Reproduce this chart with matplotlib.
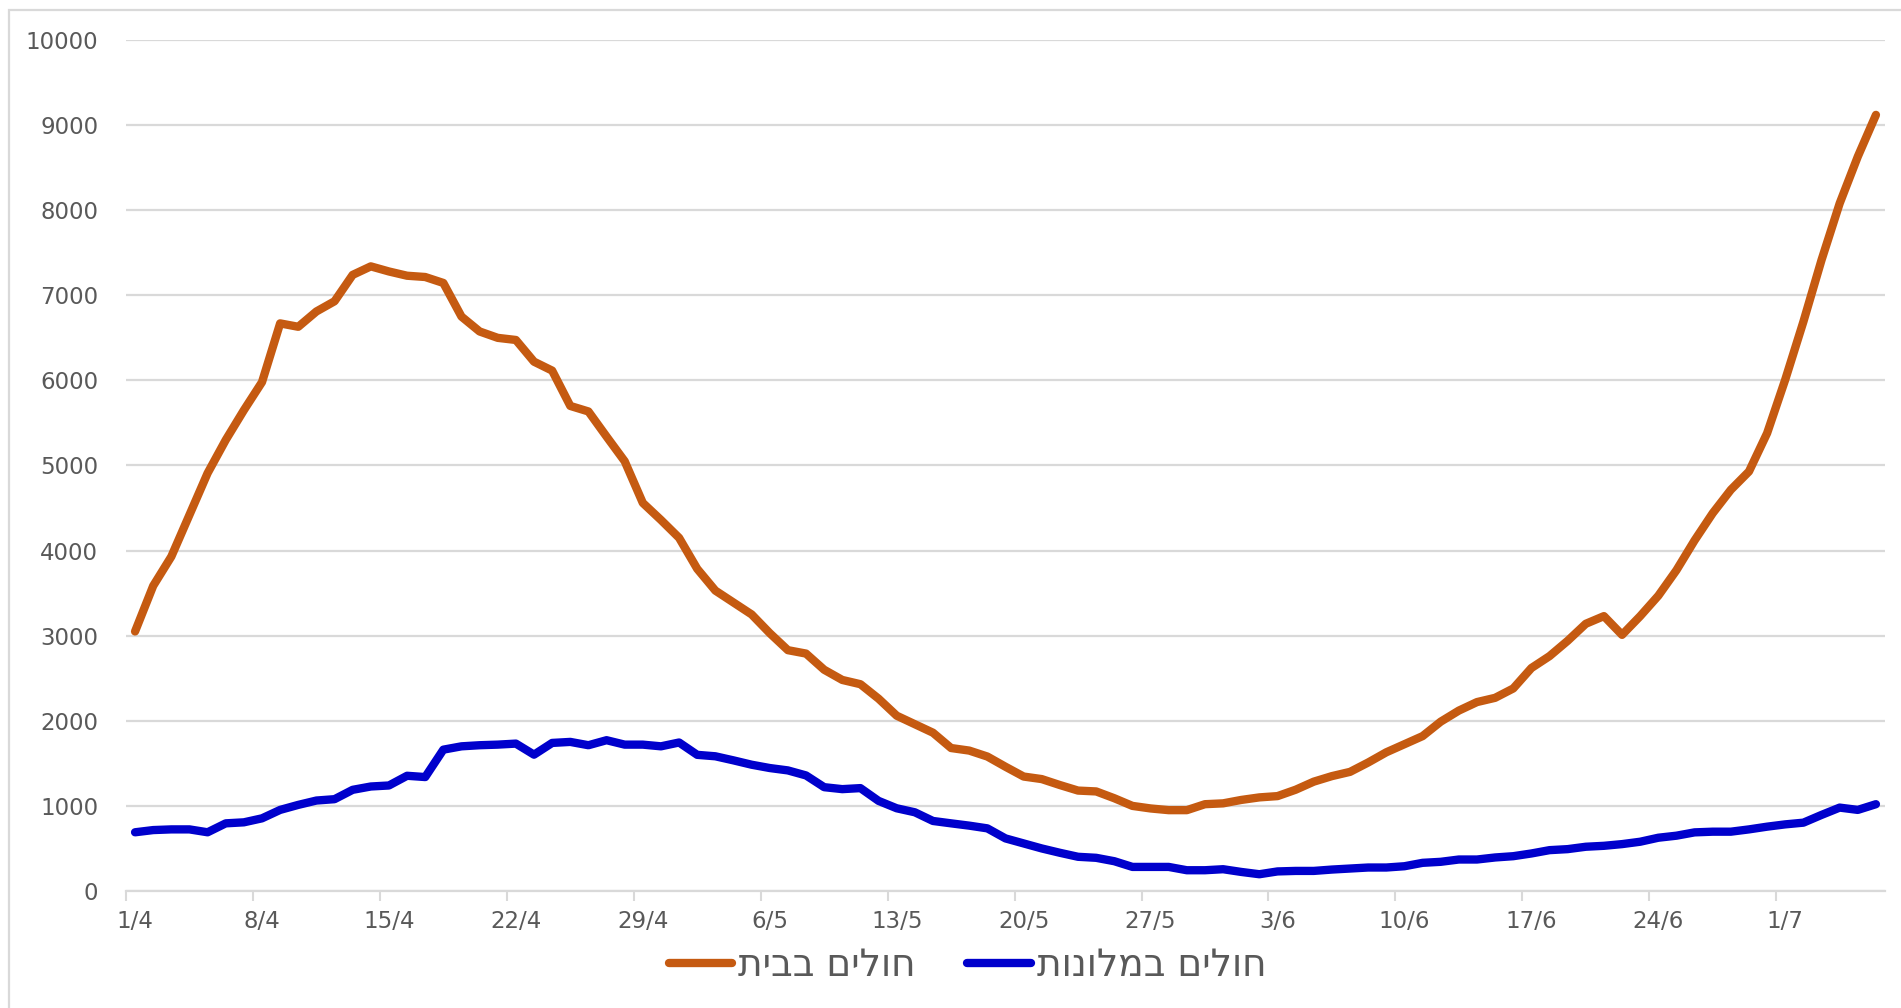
import matplotlib
matplotlib.use('Agg')
import matplotlib.pyplot as plt
from matplotlib.patches import Rectangle
import numpy as np
import pandas as pd

# ימים: 1/4 עד 6/7
dates = pd.date_range('2020-04-01', '2020-07-06', freq='D')
day_labels = [f"{d.day}/{d.month}" for d in dates]

home = [3050, 3586, 3930, 4420, 4910, 5300, 5650, 5980, 6670, 6630,
        6810, 6930, 7240, 7340, 7280, 7230, 7215, 7145, 6750, 6575,
        6500, 6475, 6220, 6115, 5700, 5635, 5340, 5050, 4560, 4360,
        4150, 3786, 3530, 3390, 3250, 3030, 2830, 2790, 2600, 2480,
        2430, 2260, 2060, 1960, 1860, 1680, 1650, 1580, 1460, 1345,
        1315, 1245, 1180, 1170, 1090, 1000, 970, 950, 950, 1020,
        1030, 1070, 1100, 1115, 1190, 1285, 1350, 1400, 1510, 1630,
        1725, 1820, 1990, 2120, 2220, 2270, 2380, 2620, 2760, 2940,
        3140, 3230, 3010, 3230, 3470, 3770, 4120, 4440, 4715, 4930,
        5380, 6010, 6690, 7415, 8080, 8630, 9120]

hotels = [690, 716, 724, 724, 690, 795, 807, 854, 953, 1012,
          1063, 1079, 1189, 1228, 1240, 1354, 1339, 1661, 1700, 1713,
          1720, 1732, 1602, 1740, 1752, 1713, 1772, 1720, 1720, 1700,
          1745, 1600, 1583, 1535, 1484, 1445, 1417, 1358, 1220, 1197,
          1209, 1059, 972, 925, 823, 795, 768, 736, 618, 559,
          500, 449, 402, 390, 350, 283, 283, 283, 244, 244,
          256, 224, 197, 230, 236, 236, 252, 264, 276, 276,
          291, 331, 343, 370, 370, 394, 409, 441, 480, 492,
          520, 531, 551, 579, 626, 650, 689, 697, 697, 724,
          756, 783, 803, 894, 980, 953, 1020]

series_names = ['חולים בבית', 'חולים במלונות']
series_colors = ['#C55A11', '#0000CC']

W, H = 1901, 1008
fig = plt.figure(figsize=(W / 100, H / 100), dpi=100)
ax = fig.add_axes([126 / W, 1 - 891 / H, (1885 - 126) / W, (891 - 40) / H])

x = np.arange(len(dates))
for vals, name, col in zip([home, hotels], series_names, series_colors):
    ax.plot(x, vals, color=col, lw=6.0, solid_joinstyle='round',
            solid_capstyle='round', label=name[::-1], zorder=3)

ax.set_xlim(-0.5, len(dates) - 0.5)
ax.set_ylim(0, 10000)
ax.set_yticks(np.arange(0, 10001, 1000))
ax.grid(axis='y', color='#D9D9D9', lw=1.6, zorder=0)
ax.set_axisbelow(True)

# תוויות כל 7 ימים, סימני ציר בין הקטגוריות
ax.set_xticks(x[::7])
ax.set_xticklabels(day_labels[::7])
ax.set_xticks(np.arange(-0.5, len(dates), 7), minor=True)
ax.tick_params(axis='x', which='major', length=0, pad=14, labelsize=16.5,
               labelcolor='#595959')
ax.tick_params(axis='x', which='minor', length=7, width=1.5, color='#D9D9D9')
ax.tick_params(axis='y', length=0, pad=20, labelsize=16.5, labelcolor='#595959')
for lab in ax.get_xticklabels() + ax.get_yticklabels():
    lab.set_family(['DejaVu Sans'])

for s in ['top', 'right', 'left']:
    ax.spines[s].set_visible(False)
ax.spines['bottom'].set_color('#D9D9D9')
ax.spines['bottom'].set_linewidth(1.6)

leg = fig.legend(loc='center', bbox_to_anchor=(0.509, 0.042), ncol=2,
                 frameon=False, handlelength=1.7, handletextpad=0.16,
                 columnspacing=1.36,
                 prop={'family': ['DejaVu Sans'], 'size': 27})
for t in leg.get_texts():
    t.set_color('#595959')
for ln in leg.get_lines():
    ln.set_solid_capstyle('round')

# מסגרת התרשים
fig.patches.append(Rectangle((9 / W, -0.1), 1.2, 1.1 - 10 / H,
                             transform=fig.transFigure, fill=False,
                             edgecolor='#D9D9D9', lw=1.6))

fig.savefig('out.png', dpi=100)
